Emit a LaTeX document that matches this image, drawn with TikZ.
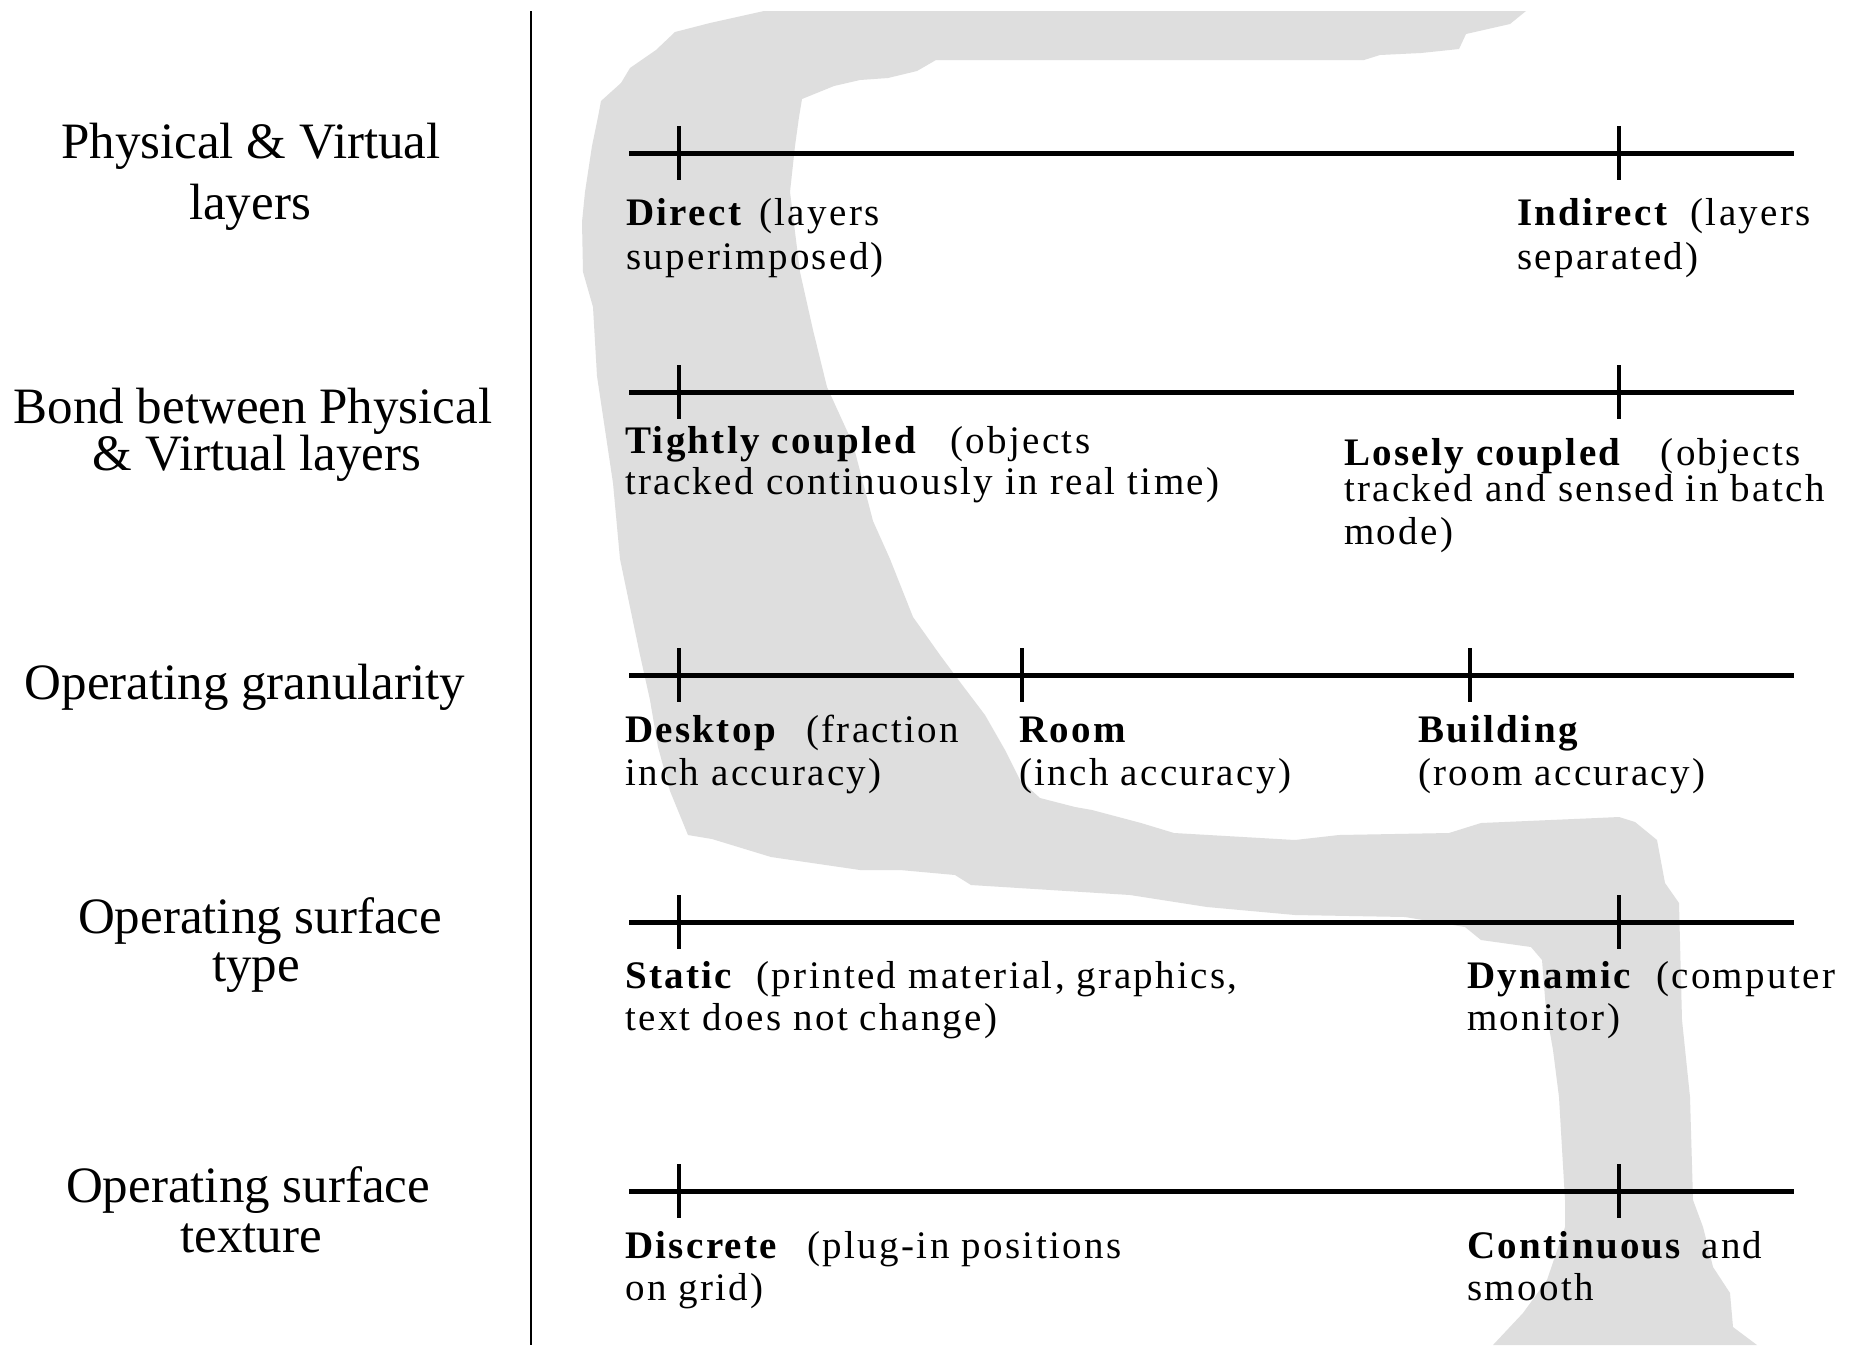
\documentclass[tikz,border=0pt]{standalone}
\usepackage{fontspec}
\setmainfont{Liberation Serif}
\newfontfamily\polefont{Liberation Serif}[LetterSpace=6]
\definecolor{bandgray}{RGB}{222,222,222}
\begin{document}
\begin{tikzpicture}[x=1pt,y=-1pt,
  band/.style={fill=bandgray,draw=none},
  axis/.style={line width=5pt},
  tickmark/.style={line width=3.2pt},
  divider/.style={line width=2.6pt},
  dim/.style={anchor=base,inner sep=0pt,font=\fontsize{51}{60}\selectfont},
  pole/.style={anchor=base west,inner sep=0pt,font=\polefont\fontsize{39}{44}\selectfont}]

% page frame
\useasboundingbox[fill=white] (0,0) rectangle (1861,1345);

% the shaded path winding through the scales
\fill[band] (764,11) -- (1526,11) -- (1510,24) -- (1466,34) -- (1459,49) -- (1421,53)
  -- (1380,55) -- (1364,60) -- (936,60) -- (917,71) -- (888,78) -- (860,80) -- (834,86)
  -- (802,99) -- (799,117) -- (795,146) -- (790,192) -- (800,272) -- (813,330)
  -- (827,387) -- (853,444) -- (873,521) -- (890,559) -- (913,617) -- (940,655)
  -- (960,682) -- (985,715) -- (1005,750) -- (1020,780) -- (1040,798) -- (1075,807)
  -- (1092,810) -- (1141,823) -- (1174,833) -- (1295,840) -- (1339,835) -- (1449,833)
  -- (1481,823) -- (1597,818) -- (1619,817) -- (1635,822) -- (1657,840) -- (1665,883)
  -- (1679,903) -- (1682,1020) -- (1690,1097) -- (1693,1200) -- (1703,1227)
  -- (1713,1267) -- (1730,1293) -- (1733,1327) -- (1757,1345) -- (1493,1345)
  -- (1523,1313) -- (1547,1280) -- (1565,1227) -- (1565,1200) -- (1559,1097)
  -- (1553,1050) -- (1546,1010) -- (1542,960) -- (1531,947) -- (1481,940) -- (1465,927)
  -- (1405,917) -- (1295,915) -- (1207,907) -- (1130,895) -- (971,885) -- (955,875)
  -- (900,870) -- (860,870) -- (771,857) -- (712,839) -- (688,835) -- (670,791)
  -- (658,747) -- (650,700) -- (640,655) -- (620,559) -- (613,483) -- (597,376)
  -- (593,307) -- (583,272) -- (582,222) -- (585,192) -- (592,146) -- (598,117)
  -- (601,101) -- (621,83) -- (630,68) -- (656,50) -- (675,32) -- (710,23) -- cycle;

% divider between dimension names and scales
\coordinate (divtop) at (531,11);
\coordinate (divbot) at (531,1345);
\draw[divider] (divtop) -- (divbot);

% scale lines
\foreach \n/\y in {1/153,2/392,3/675,4/922,5/1191}{
  \coordinate (s\n) at (629,\y);
  \coordinate (e\n) at (1794,\y);
  \draw[axis] (s\n) -- (e\n);
}

% tick marks
\foreach \t/\x/\y in {a/679/153,b/1619/153,c/679/392,d/1619/392,e/679/675,f/1022/675,
                      g/1470/675,h/679/922,i/1619/922,j/679/1191,k/1619/1191}{
  \coordinate (\t up) at (\x,\y-27);
  \coordinate (\t dn) at (\x,\y+27);
  \draw[tickmark] (\t up) -- (\t dn);
}

% dimension names
\node[dim] (pv1) at (251,158) {Physical \& Virtual};
\node[dim] (pv2) at (250,219) {layers};
\node[dim] (bd1) at (253,423) {Bond between Physical};
\node[dim] (bd2) at (257,470) {\& Virtual layers};
\node[dim] (gr1) at (245,699) {Operating granularity};
\node[dim] (ty1) at (260,933) {Operating surface};
\node[dim] (ty2) at (256,981) {type};
\node[dim] (tx1) at (248,1202) {Operating surface};
\node[dim] (tx2) at (251,1252) {texture};

% scale poles
\node[pole] (dir1) at (626,225) {\textbf{Direct}\hspace{16pt}(layers};
\node[pole] (dir2) at (626,269) {superimposed)};
\node[pole] (ind1) at (1517,225) {\textbf{Indirect}\hspace{21pt}(layers};
\node[pole] (ind2) at (1517,269) {separated)};

\node[pole] (tig1) at (625,453) {\textbf{Tightly coupled}\hspace{32pt}(objects};
\node[pole] (tig2) at (625,494) {tracked continuously in real time)};
\node[pole] (los1) at (1344,465) {\textbf{Losely coupled}\hspace{38pt}(objects};
\node[pole] (los2) at (1344,501) {tracked and sensed in batch};
\node[pole] (los3) at (1344,544) {mode)};

\node[pole] (dsk1) at (625,742) {\textbf{Desktop}\hspace{28pt}(fraction};
\node[pole] (dsk2) at (625,785) {inch accuracy)};
\node[pole] (rom1) at (1019,742) {\textbf{Room}};
\node[pole] (rom2) at (1019,785) {(inch accuracy)};
\node[pole] (bld1) at (1418,742) {\textbf{Building}};
\node[pole] (bld2) at (1418,785) {(room accuracy)};

\node[pole] (sta1) at (625,988) {\textbf{Static}\hspace{22pt}(printed material, graphics,};
\node[pole] (sta2) at (625,1030) {text does not change)};
\node[pole] (dyn1) at (1467,988) {\textbf{Dynamic}\hspace{23pt}(computer};
\node[pole] (dyn2) at (1467,1030) {monitor)};

\node[pole] (dis1) at (625,1258) {\textbf{Discrete}\hspace{28pt}(plug-in positions};
\node[pole] (dis2) at (625,1300) {on grid)};
\node[pole] (con1) at (1467,1258) {\textbf{Continuous}\hspace{18pt}and};
\node[pole] (con2) at (1467,1300) {smooth};
\end{tikzpicture}
\end{document}
